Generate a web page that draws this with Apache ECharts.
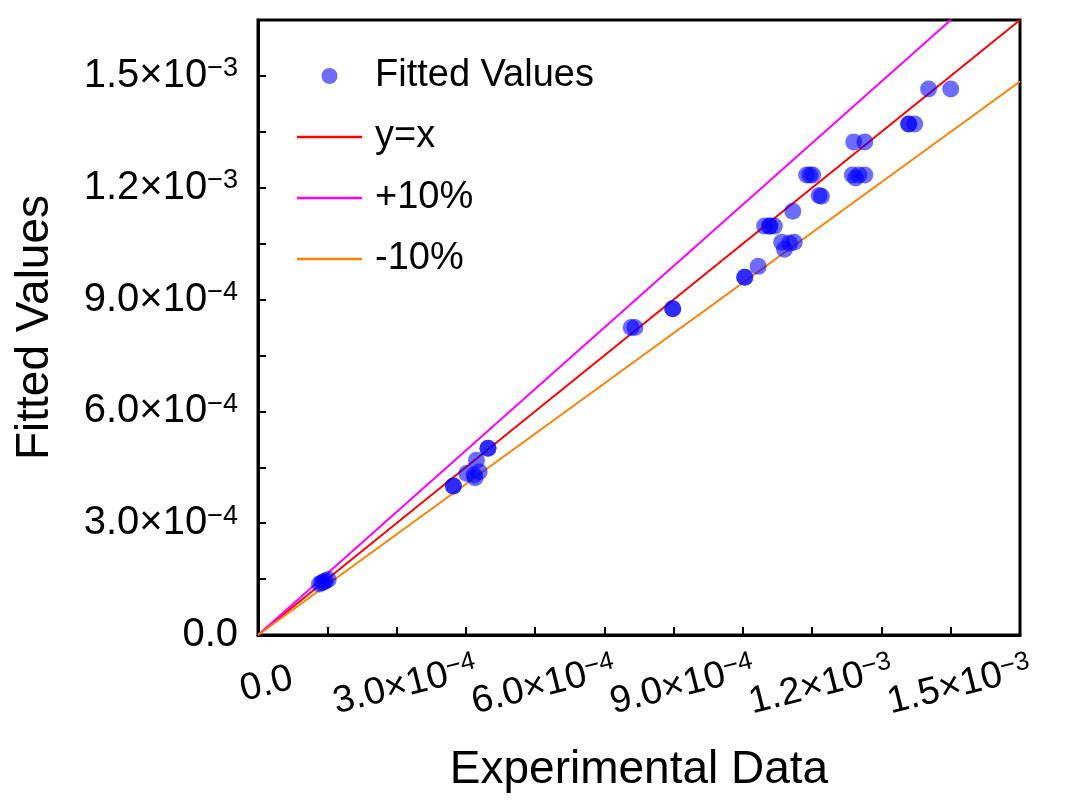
<!DOCTYPE html>
<html><head><meta charset="utf-8">
<script src="https://cdn.jsdelivr.net/npm/echarts@6/dist/echarts.min.js"></script>
<style>html,body{margin:0;padding:0;background:#fff}#c{width:1066px;height:802px}</style>
</head><body><div id="c"></div>
<script>
// Experimental vs fitted values
const expX = [1.33e-4,1.38e-4,1.42e-4,1.46e-4,1.52e-4,
  4.23e-4,4.23e-4,4.52e-4,4.68e-4,4.70e-4,4.79e-4,4.73e-4,4.98e-4,4.98e-4,
  8.08e-4,8.16e-4,8.98e-4,8.98e-4,
  1.054e-3,1.054e-3,1.083e-3,
  1.097e-3,1.108e-3,1.108e-3,1.118e-3,
  1.134e-3,1.140e-3,1.151e-3,1.161e-3,1.158e-3,
  1.188e-3,1.195e-3,1.201e-3,1.215e-3,1.220e-3,
  1.290e-3,1.314e-3,1.287e-3,1.294e-3,1.301e-3,1.314e-3,
  1.409e-3,1.409e-3,1.422e-3,1.452e-3,1.500e-3];
const fitY = [1.37e-4,1.40e-4,1.42e-4,1.45e-4,1.49e-4,
  4.00e-4,4.00e-4,4.33e-4,4.29e-4,4.22e-4,4.38e-4,4.69e-4,5.01e-4,5.01e-4,
  8.25e-4,8.25e-4,8.75e-4,8.75e-4,
  9.60e-4,9.60e-4,9.89e-4,
  1.097e-3,1.097e-3,1.097e-3,1.097e-3,
  1.054e-3,1.035e-3,1.051e-3,1.054e-3,1.137e-3,
  1.234e-3,1.234e-3,1.234e-3,1.179e-3,1.177e-3,
  1.323e-3,1.323e-3,1.234e-3,1.226e-3,1.234e-3,1.234e-3,
  1.371e-3,1.371e-3,1.371e-3,1.465e-3,1.465e-3];

// Reference lines (end points)
const yxLineX = [0, 1.65e-3];
const yxLineY = [0, 1.65e-3];
const plusLineX = [0, 1.5e-3];
const plusLineY = [0, 1.65e-3];
const minusLineX = [0, 1.65e-3];
const minusLineY = [0, 1.485e-3];

// Tick labels
const tickValues = [0, 3e-4, 6e-4, 9e-4, 1.2e-3, 1.5e-3];
const tickMantissa = ['0.0', '3.0', '6.0', '9.0', '1.2', '1.5'];
const yTickExponent = ['', '\u22124', '\u22124', '\u22124', '\u22123', '\u22123'];
const xTickExponent = ['', '\u22124', '\u22124', '\u22124', '\u22123', '\u22123'];

const FONT = '"Liberation Sans", Arial, sans-serif';
const LINE_ICON = 'path://M0 0H100V4H0Z';

function makeFormatter(exps, mStyle) {
  return function (v) {
    const i = tickValues.findIndex(t => Math.abs(t - v) < 1e-9);
    if (i < 0) return '';
    if (i === 0) return '{' + mStyle + '|' + tickMantissa[0] + '}';
    return '{' + mStyle + '|' + tickMantissa[i] + '\u00d710}{e|' + exps[i] + '}';
  };
}

const pairs = (xs, ys) => xs.map((x, i) => [x, ys[i]]);

const axisCommon = {
  type: 'value', min: 0, max: 1.65e-3, interval: 1.5e-4,
  splitLine: { show: false },
  axisLine: { show: true, lineStyle: { color: '#000', width: 3 } },
  axisTick: { show: true, inside: true, length: 8, lineStyle: { color: '#000', width: 2 } },
  nameTextStyle: { fontFamily: FONT, fontSize: 46, color: '#000' },
  nameLocation: 'middle'
};

const chart = echarts.init(document.getElementById('c'));
chart.setOption({
  backgroundColor: '#fff',
  animation: false,
  grid: { left: 258, right: 46, top: 20, bottom: 167, show: true, borderColor: '#000', borderWidth: 3, backgroundColor: 'transparent' },
  legend: {
    orient: 'vertical', left: 292, top: 52, itemGap: 23,
    itemWidth: 65, itemHeight: 16,
    textStyle: { fontFamily: FONT, fontSize: 38, color: '#000', padding: [0, 0, 0, 8] },
    data: [
      { name: 'Fitted Values', icon: 'circle' },
      { name: 'y=x', icon: LINE_ICON },
      { name: '+10%', icon: LINE_ICON },
      { name: '-10%', icon: LINE_ICON }
    ]
  },
  xAxis: Object.assign({}, axisCommon, {
    name: 'Experimental Data', nameGap: 112,
    axisLabel: {
      showMaxLabel: false, rotate: 14, align: 'center', verticalAlign: 'top', margin: 32,
      formatter: makeFormatter(xTickExponent, 'mx'),
      rich: {
        mx: { fontFamily: FONT, fontSize: 38, color: '#000', padding: [0, 0, 0, 8] },
        e: { fontFamily: FONT, fontSize: 26, color: '#000', verticalAlign: 'top', padding: [0, 0, 14, 0] }
      }
    }
  }),
  yAxis: Object.assign({}, axisCommon, {
    name: 'Fitted Values', nameGap: 200,
    axisLabel: {
      showMaxLabel: false, margin: 20,
      formatter: makeFormatter(yTickExponent, 'm'),
      rich: {
        m: { fontFamily: FONT, fontSize: 40, color: '#000' },
        e: { fontFamily: FONT, fontSize: 27, color: '#000', verticalAlign: 'top', padding: [0, 0, 14, 0] }
      }
    }
  }),
  series: [
    { name: 'y=x', type: 'line', data: pairs(yxLineX, yxLineY), symbol: 'none', color: '#ff0000', lineStyle: { width: 2, color: '#ff0000' }, z: 2 },
    { name: '+10%', type: 'line', data: pairs(plusLineX, plusLineY), symbol: 'none', color: '#ff00ff', lineStyle: { width: 2, color: '#ff00ff' }, z: 2 },
    { name: '-10%', type: 'line', data: pairs(minusLineX, minusLineY), symbol: 'none', color: '#ff8000', lineStyle: { width: 2, color: '#ff8000' }, z: 2 },
    { name: 'Fitted Values', type: 'scatter', data: pairs(expX, fitY), symbolSize: 17, itemStyle: { color: 'rgba(0,0,255,0.72)' }, z: 5 }
  ]
});
</script></body></html>
